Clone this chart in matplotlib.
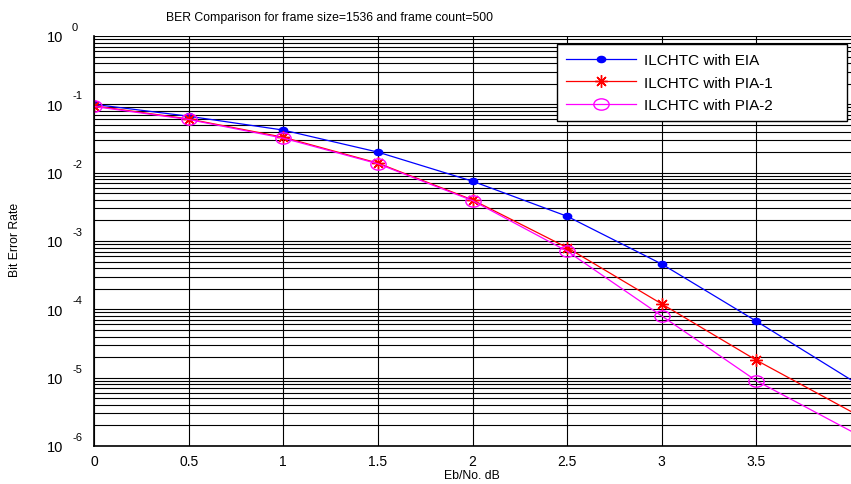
import numpy as np
import matplotlib
matplotlib.use('Agg')
import matplotlib.pyplot as plt
from matplotlib.path import Path
from matplotlib.transforms import Affine2D
from matplotlib.ticker import LogLocator, NullFormatter

plt.rcParams['font.family'] = ['Liberation Sans', 'DejaVu Sans']

ebno = [0, 0.5, 1, 1.5, 2, 2.5, 3, 3.5, 4]
ber_eia = [0.1, 0.067, 0.042, 0.020, 0.0075, 0.0023, 4.6e-4, 6.7e-5, 9.3e-6]
ber_pia1 = [0.095, 0.061, 0.033, 0.0138, 0.0040, 8.0e-4, 1.2e-4, 1.8e-5, 3.2e-6]
ber_pia2 = [0.093, 0.060, 0.032, 0.0135, 0.0039, 7.1e-4, 8.0e-5, 9.0e-6, 1.65e-6]
labels = ['ILCHTC with EIA', 'ILCHTC with PIA-1', 'ILCHTC with PIA-2']
xticks = [0, 0.5, 1, 1.5, 2, 2.5, 3, 3.5]
decades = [0, -1, -2, -3, -4, -5, -6]

W, H = 851, 485
fig = plt.figure(figsize=(W / 100, H / 100), dpi=100)
ax = fig.add_axes([94 / W, 1 - 447 / H, (851 - 94) / W, (447 - 37) / H])

# wide ellipse markers, like the stretched MATLAB export
ell = Path.unit_circle().transformed(Affine2D().scale(1.35, 1.0))

ax.semilogy(ebno, ber_eia, color='blue', lw=0.9, marker=ell, markersize=6,
            markerfacecolor='blue', markeredgecolor='blue', markevery=slice(0, 8),
            label=labels[0])
ax.semilogy(ebno, ber_pia1, color='red', lw=0.9, marker=(8, 2, 0), markersize=9,
            markeredgewidth=1.0, markeredgecolor='red', markevery=slice(0, 8),
            label=labels[1])
ax.semilogy(ebno, ber_pia2, color='magenta', lw=0.9, marker=ell, markersize=11,
            markerfacecolor='none', markeredgecolor='magenta', markevery=slice(0, 8),
            label=labels[2])

ax.set_xlim(0, 4)
ax.set_ylim(1e-6, 1)
ax.set_xticks(xticks)
ax.set_xticklabels([('%g' % t) for t in xticks], fontsize=10)
ax.yaxis.set_minor_locator(LogLocator(base=10, subs=np.arange(2, 10), numticks=20))
ax.yaxis.set_minor_formatter(NullFormatter())
ax.set_yticks([10.0 ** d for d in decades])
ax.set_yticklabels([''] * len(decades))
for d in decades:
    ax.text(-0.051, 10.0 ** d * 10 ** -0.02, '10', transform=ax.get_yaxis_transform(),
            ha='center', va='center', fontsize=10.5)
    ax.text(-0.029, 10.0 ** d * 10 ** 0.13, str(d), transform=ax.get_yaxis_transform(),
            ha='left', va='center', fontsize=8)

ax.grid(True, which='major', color='black', lw=0.8)
ax.grid(True, which='minor', axis='y', color='black', lw=0.8)
ax.tick_params(which='both', direction='in', length=0, pad=6)
for s in ['top', 'right']:
    ax.spines[s].set_visible(False)
for s in ['left', 'bottom']:
    ax.spines[s].set_linewidth(1.2)
ax.axhline(1, color='black', lw=1.2)

fig.text(330 / W, 1 - 18 / H, 'BER Comparison for frame size=1536 and frame count=500',
         ha='center', va='center', fontsize=8.8)
fig.text(472 / W, 1 - 476 / H, 'Eb/No. dB', ha='center', va='center', fontsize=8.8)
fig.text(15 / W, 1 - 240 / H, 'Bit Error Rate', ha='center', va='center',
         rotation=90, fontsize=8.8)

leg = ax.legend(loc='upper left', bbox_to_anchor=(557 / W, 1 - 118 / H, 290 / W, 73 / H),
                bbox_transform=fig.transFigure, mode='expand', fontsize=11,
                fancybox=False, framealpha=1, edgecolor='black', borderaxespad=0,
                handlelength=4.6, handletextpad=0.5, labelspacing=0.55, borderpad=0.6)
leg.get_frame().set_linewidth(1.0)

fig.savefig('out.png', dpi=100)
